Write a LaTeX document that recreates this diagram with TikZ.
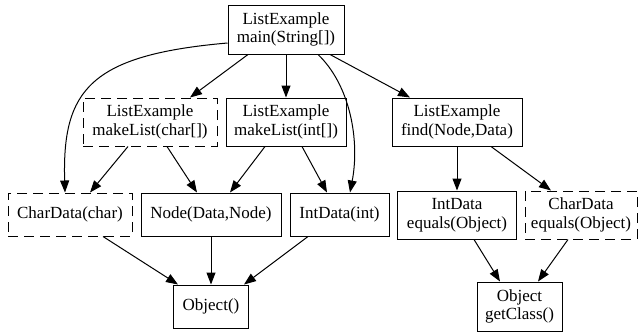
\documentclass[tikz,border=0pt]{standalone}
\usepackage{fontspec}
\setmainfont{Liberation Serif}
\usetikzlibrary{arrows.meta}
\begin{document}
\begin{tikzpicture}[x=1pt,y=-1pt,
  box/.style={draw,line width=1pt,rectangle,inner sep=0pt,align=center,
    font=\fontsize{17}{18.5}\selectfont},
  dbox/.style={box,dash pattern=on 10pt off 6pt},
  edge/.style={line width=1pt,-{Triangle[length=12pt,width=9pt]}}]
\useasboundingbox (0,0) rectangle (642,333);
\node[box,minimum width=116pt,minimum height=49pt] (main) at (286,29.5) {ListExample\\main(String[])};
\node[dbox,minimum width=134pt,minimum height=48pt] (mlc) at (150,122) {ListExample\\makeList(char[])};
\node[box,minimum width=120pt,minimum height=48pt] (mli) at (286,122) {ListExample\\makeList(int[])};
\node[box,minimum width=130pt,minimum height=48pt] (find) at (457,122) {ListExample\\find(Node,Data)};
\node[dbox,minimum width=124pt,minimum height=43pt] (cdc) at (70,214.5) {CharData(char)};
\node[box,minimum width=140pt,minimum height=43pt] (nd) at (211,214.5) {Node(Data,Node)};
\node[box,minimum width=99pt,minimum height=43pt] (idi) at (339.5,214.5) {IntData(int)};
\node[box,minimum width=119pt,minimum height=48pt] (ideq) at (457,215) {IntData\\equals(Object)};
\node[dbox,minimum width=112pt,minimum height=48pt] (cdeq) at (581,215) {CharData\\equals(Object)};
\node[box,minimum width=75pt,minimum height=43pt] (obj) at (211,306.5) {Object()};
\node[box,minimum width=85pt,minimum height=49pt] (gc) at (519.5,306.5) {Object\\getClass()};

\draw[edge] ([xshift=-38pt]main.south) -- ([xshift=40pt]mlc.north);
\draw[edge] (main.south) -- (mli.north);
\draw[edge] ([xshift=44pt]main.south) -- ([xshift=-47pt]find.north);
\draw[edge] ([yshift=-13.5pt]main.west) .. controls (90,55) and (62,90) .. ([xshift=-5pt]cdc.north);
\draw[edge] ([xshift=32pt]main.south) .. controls (350,85) and (360,140) .. ([xshift=10.5pt]idi.north);
\draw[edge] ([xshift=-22pt]mlc.south) -- ([xshift=20pt]cdc.north);
\draw[edge] ([xshift=17pt]mlc.south) -- ([xshift=-14pt]nd.north);
\draw[edge] ([xshift=-21pt]mli.south) -- ([xshift=19pt]nd.north);
\draw[edge] ([xshift=16pt]mli.south) -- ([xshift=-12.5pt]idi.north);
\draw[edge] (find.south) -- (ideq.north);
\draw[edge] ([xshift=34pt]find.south) -- ([xshift=-30pt]cdeq.north);
\draw[edge] ([xshift=33pt]cdc.south) -- ([xshift=-33pt]obj.north);
\draw[edge] (nd.south) -- (obj.north);
\draw[edge] ([xshift=-31.5pt]idi.south) -- ([xshift=33pt]obj.north);
\draw[edge] ([xshift=17pt]ideq.south) -- ([xshift=-19.5pt]gc.north);
\draw[edge] ([xshift=-13pt]cdeq.south) -- ([xshift=18.5pt]gc.north);
\end{tikzpicture}
\end{document}
